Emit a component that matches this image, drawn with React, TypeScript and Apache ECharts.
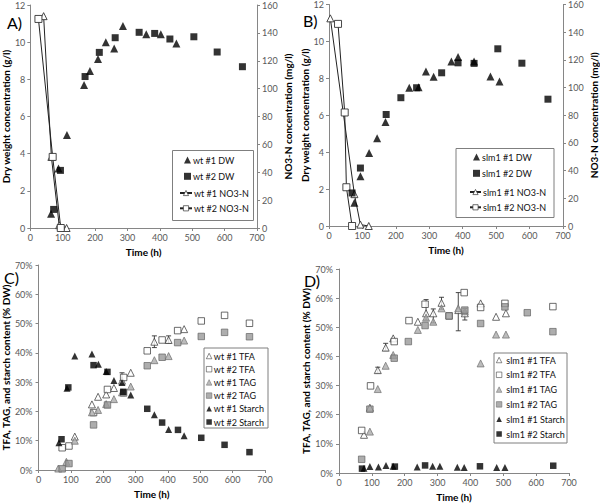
import React, { useEffect, useRef } from "react";
import * as echarts from "echarts";

const FONT = "Lato";

const timeTicks = [0, 100, 200, 300, 400, 500, 600, 700];
const dwTicks = [0, 2, 4, 6, 8, 10, 12];
const no3Ticks = [0, 20, 40, 60, 80, 100, 120, 140, 160];
const pctTicks = [0, 10, 20, 30, 40, 50, 60, 70];

// Panel A (wt)
const wt1DW = [[64, 0.77], [87, 3.2], [113, 5.0], [166, 7.7], [184, 8.45], [209, 9.1], [233, 10.0], [259, 9.66], [286, 10.87], [358, 10.42], [403, 10.42], [451, 9.93]];
const wt2DW = [[72, 1.0], [93, 3.1], [169, 8.15], [213, 9.45], [262, 10.24], [336, 10.53], [384, 10.47], [431, 10.17], [505, 10.29], [577, 9.47], [655, 8.68]];
const wt1NO3 = [[41, 152], [65, 51], [89, 2], [112, 0]];
const wt2NO3 = [[25, 150], [69, 51], [94, 0]];

// Panel B (slm1)
const slm1DW1 = [[76, 1.26], [94, 2.69], [120, 3.95], [144, 4.76], [169, 5.63], [240, 7.49], [268, 7.52], [290, 8.37], [313, 8.08], [366, 8.91], [386, 9.15], [434, 8.91], [483, 8.1], [510, 7.83]];
const slm1DW2 = [[69, 1.79], [94, 3.14], [171, 6.04], [215, 6.95], [262, 7.49], [337, 8.3], [386, 8.84], [434, 8.81], [505, 9.6], [577, 8.82], [655, 6.87]];
const slm1NO3a = [[4, 150], [76, 23], [94, 1], [119, 0]];
const slm1NO3b = [[27, 146], [47, 82], [52, 28], [69, 0]];

// Panel C (wt, % DW)
const wt1TFA = [[112, 11.4], [165, 22.4], [184, 25.0], [209, 25.8], [233, 28.0], [258, 30.5], [285, 33.2], [358, 43.8], [402, 44.4], [450, 48.1]];
const wt2TFA = [[73, 7.6], [94, 8.2], [170, 19.6], [213, 27.5], [263, 31.6], [336, 40.7], [382, 44.4], [430, 47.6], [503, 50.9], [575, 52.8], [652, 50.1]];
const wt1TAG = [[61, 0.5], [86, 2.8], [112, 10.0], [165, 19.7], [184, 20.5], [209, 22.5], [233, 24.2], [258, 26.5], [285, 28.5], [358, 37.5], [402, 38.9], [450, 44.2]];
const wt2TAG = [[73, 0.4], [94, 2.2], [170, 15.4], [213, 22.2], [263, 26.3], [336, 35.6], [382, 38.5], [430, 43.5], [503, 45.6], [575, 47.0], [652, 45.5]];
const wt1Starch = [[63, 9.3], [88, 27.9], [112, 38.9], [165, 39.6], [185, 36.1], [209, 33.6], [233, 30.6], [258, 29.9], [285, 25.6], [358, 18.9], [402, 13.8], [450, 11.7]];
const wt2Starch = [[71, 10.5], [92, 28.2], [170, 35.8], [213, 33.5], [262, 26.7], [336, 20.9], [382, 16.2], [431, 13.7], [503, 11.0], [575, 8.6], [652, 6.1]];
const wtErr = [[258, 30.5, 33.2], [358, 41.8, 45.8], [402, 43.3, 45.8]];

// Panel D (slm1, % DW)
const slm1TFA1 = [[76, 13.1], [94, 22.4], [118, 35.3], [142, 43.0], [165, 46.2], [240, 51.9], [265, 54.8], [287, 54.8], [312, 58.4], [363, 55.9], [383, 54.8], [431, 58.2], [478, 53.6], [508, 54.8]];
const slm1TFA2 = [[69, 14.6], [96, 29.9], [168, 45.1], [213, 52.3], [262, 57.9], [335, 53.9], [381, 61.9], [431, 56.8], [505, 58.2], [651, 57.1]];
const slm1TAG1 = [[94, 14.2], [118, 28.8], [142, 36.8], [165, 40.5], [240, 49.1], [265, 53.3], [287, 51.9], [312, 56.5], [363, 56.5], [383, 55.5], [431, 37.6], [478, 47.5], [508, 47.5]];
const slm1TAG2 = [[69, 4.7], [94, 21.9], [168, 39.4], [211, 45.1], [262, 50.6], [335, 53.9], [383, 55.9], [431, 51.3], [505, 57.0], [573, 55.0], [651, 48.5]];
const slm1Starch1 = [[76, 1.6], [94, 2.2], [120, 2.1], [143, 2.6], [165, 2.3], [238, 2.1], [285, 2.3], [307, 2.3], [360, 2.0], [381, 1.9], [480, 1.9], [505, 1.9]];
const slm1Starch2 = [[70, 1.5], [170, 2.2], [262, 2.6], [429, 2.3], [652, 2.5]];
const slmErr = [[118, 34.3, 36.3], [142, 42.0, 44.5], [265, 52.5, 59.5], [287, 51.5, 56.3], [312, 56.2, 60.3], [363, 48.8, 61.9], [383, 52.5, 56.5]];

const black = { color: "#000000" };
const open = { color: "#ffffff", borderColor: "#333333", borderWidth: 0.9 };
const grayTri = { color: "#ababab", borderColor: "#6f6f6f", borderWidth: 0.9 };
const graySq = { color: "#999999", borderColor: "#666666", borderWidth: 0.9 };

function axisCommon() {
  return {
    axisLine: { show: true, lineStyle: { color: "#868686", width: 1 } },
    axisTick: { show: true, inside: false, length: 3, lineStyle: { color: "#868686" } },
    splitLine: { show: false },
    axisLabel: { color: "#595959", fontSize: 9, fontFamily: FONT, margin: 5 },
    nameTextStyle: { color: "#000", fontSize: 10, fontWeight: "bold", fontFamily: FONT },
  };
}

function xAxis(gridIndex: number) {
  return {
    ...axisCommon(),
    type: "value",
    gridIndex,
    min: timeTicks[0],
    max: timeTicks[timeTicks.length - 1],
    interval: 100,
    name: "Time (h)",
    nameLocation: "middle",
    nameGap: 19,
  };
}

function yAxis(gridIndex: number, ticks: number[], name: string, pos: string, gap: number, pct = false) {
  const a: any = {
    ...axisCommon(),
    type: "value",
    gridIndex,
    position: pos,
    min: ticks[0],
    max: ticks[ticks.length - 1],
    interval: ticks[1] - ticks[0],
    name,
    nameLocation: "middle",
    nameGap: gap,
    nameRotate: 90,
  };
  if (pct) a.axisLabel = { ...a.axisLabel, formatter: "{value}%", margin: 6 };
  return a;
}

function scatter(name: string, data: number[][], xi: number, yi: number, symbol: string, size: number, style: any) {
  return { name, type: "scatter", xAxisIndex: xi, yAxisIndex: yi, data, symbol, symbolSize: size, itemStyle: style, z: 3 };
}

function line(name: string, data: number[][], xi: number, yi: number, symbol: string, size: number) {
  return {
    name, type: "line", xAxisIndex: xi, yAxisIndex: yi, data, symbol, symbolSize: size, showSymbol: true,
    itemStyle: open, lineStyle: { color: "#222", width: 1 }, z: 2,
  };
}

function errSeries(data: number[][], xi: number, yi: number) {
  return {
    type: "custom", xAxisIndex: xi, yAxisIndex: yi, data, silent: true, z: 1,
    renderItem: (_p: any, api: any) => {
      const x = api.value(0), lo = api.value(1), hi = api.value(2);
      const a = api.coord([x, lo]);
      const b = api.coord([x, hi]);
      const w = 2.5;
      const st = { stroke: "#333", lineWidth: 0.9 };
      return {
        type: "group",
        children: [
          { type: "line", shape: { x1: a[0], y1: a[1], x2: b[0], y2: b[1] }, style: st },
          { type: "line", shape: { x1: a[0] - w, y1: a[1], x2: a[0] + w, y2: a[1] }, style: st },
          { type: "line", shape: { x1: b[0] - w, y1: b[1], x2: b[0] + w, y2: b[1] }, style: st },
        ],
      };
    },
  };
}

function legend(names: string[], left: number, top: number, itemGap: number, itemWidth: number, itemHeight: number, textGap: number) {
  return {
    data: names,
    orient: "vertical",
    left, top,
    itemGap,
    itemWidth,
    itemHeight,
    padding: 0,
    z: 6,
    itemStyle: { borderWidth: 0.7 },
    textStyle: { fontSize: 9, fontFamily: FONT, color: "#111", padding: [0, 0, 0, textGap - 5] },
  };
}

function box(x: number, y: number, w: number, h: number) {
  return { type: "rect", z: 5, shape: { x, y, width: w, height: h }, style: { fill: "#fff", stroke: "#7f7f7f", lineWidth: 1 } };
}

export default function App() {
  const ref = useRef<HTMLDivElement>(null);
  useEffect(() => {
    const chart = echarts.init(ref.current!, undefined, { renderer: "svg" });
    const option: any = {
      animation: false,
      backgroundColor: "#ffffff",
      textStyle: { fontFamily: FONT },
      grid: [
        { left: 29, top: 5, width: 228, height: 223 },
        { left: 329, top: 4, width: 235, height: 222 },
        { left: 36, top: 265, width: 229, height: 205 },
        { left: 339, top: 269, width: 230, height: 204 },
      ],
      xAxis: [xAxis(0), xAxis(1), xAxis(2), xAxis(3)],
      yAxis: [
        yAxis(0, dwTicks, "Dry weight concentration (g/l)", "left", 17),
        yAxis(0, no3Ticks, "NO3-N concentration (mg/l)", "right", 26),
        yAxis(1, dwTicks, "Dry weight concentration (g/l)", "left", 17),
        yAxis(1, no3Ticks, "NO3-N concentration (mg/l)", "right", 26),
        yAxis(2, pctTicks, "TFA, TAG, and starch content (% DW)", "left", 24, true),
        yAxis(3, pctTicks, "TFA, TAG, and starch content (% DW)", "left", 24, true),
      ],
      legend: [
        legend(["wt #1 DW", "wt #2 DW"], 184, 155.5, 7.3, 7, 7, 2),
        legend(["wt #1 NO3-N", "wt #2 NO3-N"], 179, 188.5, 6.3, 12, 6.5, 2),
        legend(["slm1 #1 DW", "slm1 #2 DW"], 473, 152.5, 7.3, 7, 7, 2),
        legend(["slm1 #1 NO3-N", "slm1 #2 NO3-N"], 469, 187.5, 6.3, 11, 6.5, 2),
        legend(["wt #1 TFA", "wt #2 TFA", "wt #1 TAG", "wt #2 TAG", "wt #1 Starch", "wt #2 Starch"], 206, 351.5, 4.2, 5.5, 5.5, 2),
        legend(["slm1 #1 TFA", "slm1 #2 TFA", "slm1 #1 TAG", "slm1 #2 TAG", "slm1 #1 Starch", "slm1 #2 Starch"], 496, 355.5, 5.8, 5.5, 5.5, 4.5),
      ],
      series: [
        scatter("wt #1 DW", wt1DW, 0, 0, "triangle", 8, black),
        scatter("wt #2 DW", wt2DW, 0, 0, "rect", 7, black),
        line("wt #1 NO3-N", wt1NO3, 0, 1, "triangle", 7),
        line("wt #2 NO3-N", wt2NO3, 0, 1, "rect", 7),

        scatter("slm1 #1 DW", slm1DW1, 1, 2, "triangle", 8, black),
        scatter("slm1 #2 DW", slm1DW2, 1, 2, "rect", 7, black),
        line("slm1 #1 NO3-N", slm1NO3a, 1, 3, "triangle", 7),
        line("slm1 #2 NO3-N", slm1NO3b, 1, 3, "rect", 7),

        errSeries(wtErr, 2, 4),
        scatter("wt #1 TFA", wt1TFA, 2, 4, "triangle", 7, open),
        scatter("wt #2 TFA", wt2TFA, 2, 4, "rect", 6.5, open),
        scatter("wt #1 TAG", wt1TAG, 2, 4, "triangle", 7, grayTri),
        scatter("wt #2 TAG", wt2TAG, 2, 4, "rect", 6.5, graySq),
        scatter("wt #1 Starch", wt1Starch, 2, 4, "triangle", 7, black),
        scatter("wt #2 Starch", wt2Starch, 2, 4, "rect", 6.5, black),

        errSeries(slmErr, 3, 5),
        scatter("slm1 #1 TFA", slm1TFA1, 3, 5, "triangle", 7, open),
        scatter("slm1 #2 TFA", slm1TFA2, 3, 5, "rect", 6.5, open),
        scatter("slm1 #1 TAG", slm1TAG1, 3, 5, "triangle", 7, grayTri),
        scatter("slm1 #2 TAG", slm1TAG2, 3, 5, "rect", 6.5, graySq),
        scatter("slm1 #1 Starch", slm1Starch1, 3, 5, "triangle", 7, black),
        scatter("slm1 #2 Starch", slm1Starch2, 3, 5, "rect", 6.5, black),
      ],
      graphic: [
        box(172.5, 150.5, 81, 70),
        box(456, 148.5, 98, 69),
        box(204, 348, 64, 80),
        box(494, 353, 73, 90),
        { type: "text", left: 7, top: 14, style: { text: "A)", fontSize: 16, fontFamily: FONT, fill: "#000" } },
        { type: "text", left: 303, top: 12, style: { text: "B)", fontSize: 16, fontFamily: FONT, fill: "#000" } },
        { type: "text", left: 4, top: 269, style: { text: "C)", fontSize: 16, fontFamily: FONT, fill: "#000" } },
        { type: "text", left: 304, top: 272, style: { text: "D)", fontSize: 16, fontFamily: FONT, fill: "#000" } },
      ],
    };
    chart.setOption(option);
    return () => chart.dispose();
  }, []);
  return <div ref={ref} style={{ position: "absolute", left: 0, top: 0, width: 600, height: 503 }} />;
}
